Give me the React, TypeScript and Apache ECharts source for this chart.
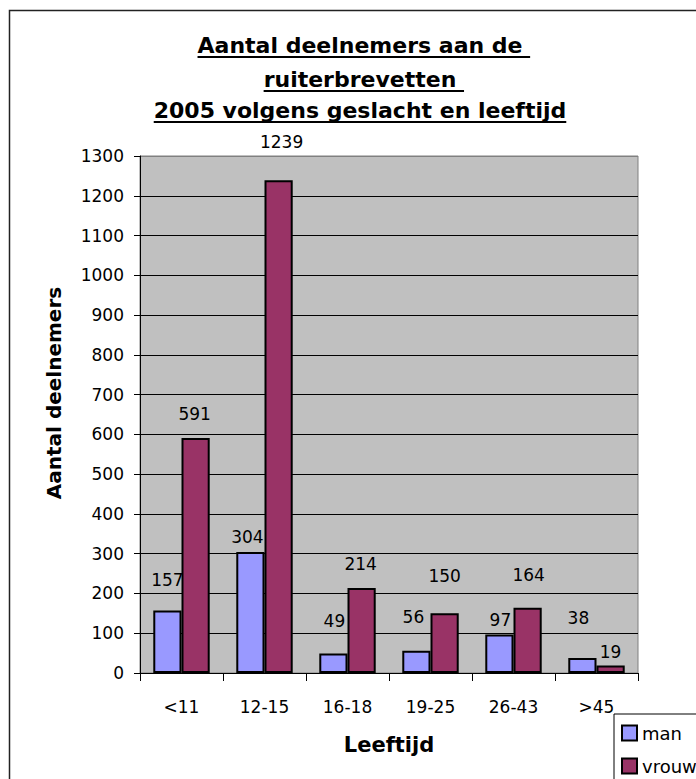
import React, { useEffect, useRef } from 'react';
import * as echarts from 'echarts';

const categories = ['<11', '12-15', '16-18', '19-25', '26-43', '>45'];
const manValues = [157, 304, 49, 56, 97, 38];
const vrouwValues = [591, 1239, 214, 150, 164, 19];
const seriesNames = ['man', 'vrouw'];
const titleLines = ['Aantal deelnemers aan de ', 'ruiterbrevetten ', '2005 volgens geslacht en leeftijd'];
const yAxisTitle = 'Aantal deelnemers';
const xAxisTitle = 'Leeftijd';

// label placement styling (pixels above bar top, horizontal shift)
const manLabelRise = [31, 15, 33, 34, 14, 40];
const manLabelShift = [0, -3, 1, -3, 1, -4];
const vrouwLabelRise = [24, 38, 24, 37, 33, 13];
const vrouwLabelShift = [-1, 3, -1, 0, 1, 0];

const FONT = '"DejaVu Sans", Verdana, sans-serif';

function measure(text: string, font: string): number {
  const ctx = document.createElement('canvas').getContext('2d');
  if (!ctx) return text.length * 12;
  ctx.font = font;
  return ctx.measureText(text).width;
}

export default function App() {
  const ref = useRef<HTMLDivElement>(null);
  useEffect(() => {
    if (!ref.current) return;
    const chart = echarts.init(ref.current, undefined, { renderer: 'svg' });

    const titleFont = `bold 22px ${FONT}`;
    const titleCx = 360;
    const titleMid = [45.5, 79.5, 110.5];
    const titleUl = [57, 91, 122];
    const titleGraphics: any[] = [];
    titleLines.forEach((line, i) => {
      const trimmed = line.replace(/\s+$/, '');
      const wT = measure(trimmed, titleFont);
      const wF = measure(line, titleFont);
      const x0 = titleCx - wT / 2;
      titleGraphics.push({
        type: 'text',
        x: titleCx,
        y: titleMid[i],
        style: {
          text: trimmed,
          font: titleFont,
          fill: '#000',
          align: 'center',
          textAlign: 'center',
          verticalAlign: 'middle',
          textVerticalAlign: 'middle',
        },
      });
      titleGraphics.push({
        type: 'line',
        shape: { x1: x0, y1: titleUl[i], x2: x0 + wF, y2: titleUl[i] },
        style: { stroke: '#000', lineWidth: 2 },
      });
    });

    const makeData = (vals: number[], rise: number[], shift: number[]) =>
      vals.map((v, i) => ({
        value: v,
        label: { offset: [shift[i], -(rise[i] - 8.5)] },
      }));

    const splitColors = Array.from({ length: 14 }, (_, i) => (i === 13 ? '#808080' : '#000'));

    const barLabel = {
      show: true,
      position: 'top',
      distance: 0,
      color: '#000',
      fontSize: 17,
      lineHeight: 17,
      fontFamily: FONT,
    };

    chart.setOption({
      animation: false,
      textStyle: { fontFamily: FONT, color: '#000' },
      grid: {
        left: 140,
        top: 156,
        width: 498,
        height: 517,
        show: true,
        backgroundColor: '#C0C0C0',
        borderColor: '#808080',
        borderWidth: 1,
      },
      legend: {
        data: seriesNames,
        orient: 'vertical',
        left: 614,
        top: 714,
        width: 110,
        height: 100,
        padding: [10, 30, 20, 7],
        itemGap: 15,
        itemWidth: 15,
        itemHeight: 15,
        icon: 'rect',
        backgroundColor: '#fff',
        borderColor: '#000',
        borderWidth: 1,
        itemStyle: { borderColor: '#000', borderWidth: 2 },
        textStyle: { fontSize: 18, color: '#000', fontFamily: FONT },
      },
      xAxis: {
        type: 'category',
        data: categories,
        axisLine: { lineStyle: { color: '#000', width: 1 } },
        axisTick: { show: true, length: 8, lineStyle: { color: '#000' } },
        axisLabel: { color: '#000', fontSize: 17, margin: 25, fontFamily: FONT },
        name: xAxisTitle,
        nameLocation: 'middle',
        nameGap: 61,
        nameTextStyle: { fontSize: 21, fontWeight: 'bold', color: '#000', fontFamily: FONT },
      },
      yAxis: {
        type: 'value',
        min: 0,
        max: 1300,
        interval: 100,
        axisLine: { show: true, lineStyle: { color: '#000', width: 1 } },
        axisTick: { show: true, length: 6, lineStyle: { color: '#000' } },
        axisLabel: {
          color: '#000',
          fontSize: 17,
          margin: 16,
          fontFamily: FONT,
          formatter: (v: number) => String(v),
        },
        splitLine: { show: true, lineStyle: { color: splitColors, width: 1 } },
      },
      graphic: [
        {
          type: 'rect',
          z: -10,
          shape: { x: 9.5, y: 10.5, width: 800, height: 900 },
          style: { fill: 'none', stroke: '#222', lineWidth: 1.5 },
        },
        ...titleGraphics,
        {
          type: 'text',
          x: 54,
          y: 393,
          rotation: Math.PI / 2,
          style: {
            text: yAxisTitle,
            font: `bold 20px ${FONT}`,
            fill: '#000',
            align: 'center',
            textAlign: 'center',
            verticalAlign: 'middle',
            textVerticalAlign: 'middle',
          },
        },
      ],
      series: [
        {
          name: seriesNames[0],
          type: 'bar',
          data: makeData(manValues, manLabelRise, manLabelShift),
          barGap: '0%',
          barCategoryGap: '32%',
          itemStyle: { color: '#9999FF', borderColor: '#000', borderWidth: 2 },
          label: barLabel,
        },
        {
          name: seriesNames[1],
          type: 'bar',
          data: makeData(vrouwValues, vrouwLabelRise, vrouwLabelShift),
          barGap: '0%',
          barCategoryGap: '32%',
          itemStyle: { color: '#993366', borderColor: '#000', borderWidth: 2 },
          label: barLabel,
        },
      ],
    });
    return () => chart.dispose();
  }, []);
  return (
    <div
      ref={ref}
      style={{ position: 'absolute', left: 0, top: 0, width: 696, height: 779, background: '#fff' }}
    />
  );
}
